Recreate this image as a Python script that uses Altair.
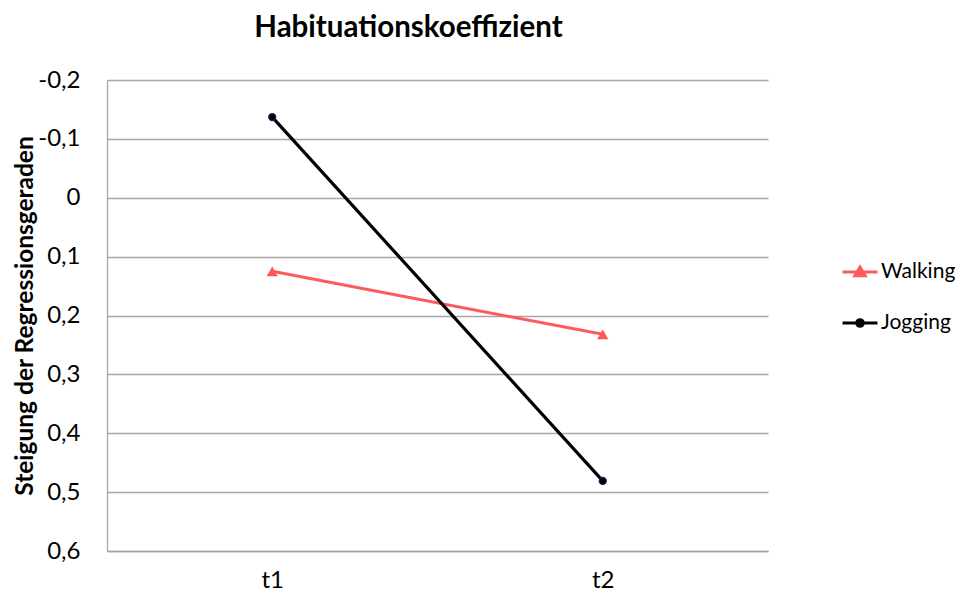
import altair as alt
import pandas as pd

times = ["t1", "t2"]
walking = [0.125, 0.232]
jogging = [-0.137, 0.481]
series_names = ["Walking", "Jogging"]
y_ticks = [-0.2, -0.1, 0.0, 0.1, 0.2, 0.3, 0.4, 0.5, 0.6]

rows = []
for t, w, j in zip(times, walking, jogging):
    rows.append({"time": t, "series": "Walking", "value": w})
    rows.append({"time": t, "series": "Jogging", "value": j})
df = pd.DataFrame(rows)

FONT = "Lato"
RED = "#ff5a5a"
BLACK = "#000000"

x_enc = alt.X("time:N", scale=alt.Scale(padding=0.5), sort=times,
              axis=alt.Axis(title=None, labelAngle=0, labelFontSize=24, labelFont=FONT,
                            labelColor="#000000", labelPadding=17, ticks=False,
                            domainColor="#a6a6a6", domainWidth=1.3))
y_enc = alt.Y("value:Q",
              scale=alt.Scale(domain=[-0.2, 0.6], reverse=True, nice=False, zero=False),
              axis=alt.Axis(values=y_ticks, title="Steigung der Regressionsgeraden",
                            titleFont=FONT, titleFontSize=24.5, titleFontWeight="bold",
                            titleColor="#000000", titlePadding=0,
                            labelFont=FONT, labelFontSize=24, labelColor="#000000",
                            labelPadding=27, ticks=False,
                            labelExpr="replace(replace(format(datum.value, '.1~f'), '.', ','), '\u2212', '-')",
                            grid=True, gridColor="#a6a6a6", gridWidth=1.3,
                            domainColor="#a6a6a6", domainWidth=1.3))

base = alt.Chart(df)

line_w = base.transform_filter("datum.series == 'Walking'").mark_line(
    color=RED, strokeWidth=3).encode(x=x_enc, y=y_enc)
line_j = base.transform_filter("datum.series == 'Jogging'").mark_line(
    color=BLACK, strokeWidth=3.2).encode(x=x_enc, y=y_enc)
pt_w = base.transform_filter("datum.series == 'Walking'").mark_point(
    shape="triangle-up", filled=True, color=RED, size=130, opacity=1).encode(x=x_enc, y=y_enc)
pt_j = base.transform_filter("datum.series == 'Jogging'").mark_point(
    shape="circle", filled=False, fill="#000000", stroke="#2a1a5e", strokeWidth=1.2,
    size=50, opacity=1).encode(x=x_enc, y=y_enc)

walk_path = "M-1,0L1,0M0,-0.28L0.3,0.22L-0.3,0.22Z"
jog_path = "M-1,0L1,0M0.19,0A0.19,0.19,0,1,1,-0.19,0A0.19,0.19,0,1,1,0.19,0Z"

legend_layer = base.transform_filter("false").mark_point(filled=True, opacity=1).encode(
    x=x_enc, y=y_enc,
    fill=alt.Fill("series:N", scale=alt.Scale(domain=series_names, range=[RED, BLACK]),
                  legend=alt.Legend(title=None)),
    stroke=alt.Stroke("series:N", scale=alt.Scale(domain=series_names, range=[RED, BLACK]),
                      legend=alt.Legend(title=None)),
    shape=alt.Shape("series:N", scale=alt.Scale(domain=series_names, range=[walk_path, jog_path]),
                    legend=alt.Legend(title=None)),
)

chart = alt.layer(line_w, line_j, pt_w, pt_j, legend_layer).properties(
    width=661, height=471,
    title=alt.Title("Habituationskoeffizient", font=FONT, fontSize=29.5, fontWeight="bold",
                    color="#000000", anchor="middle", dx=-29, offset=25),
    autosize=alt.AutoSizeParams(type="none"),
    padding={"left": 99, "top": 72, "right": 191, "bottom": 42},
).configure_view(stroke=None).configure_legend(
    orient="none", legendX=734, legendY=173, symbolSize=1225, symbolStrokeWidth=3,
    symbolOpacity=1, labelFont=FONT, labelFontSize=21, labelColor="#000000",
    labelOffset=2, rowPadding=22, padding=0,
)

chart.save("out.html", embed_options={"renderer": "svg", "actions": False})
